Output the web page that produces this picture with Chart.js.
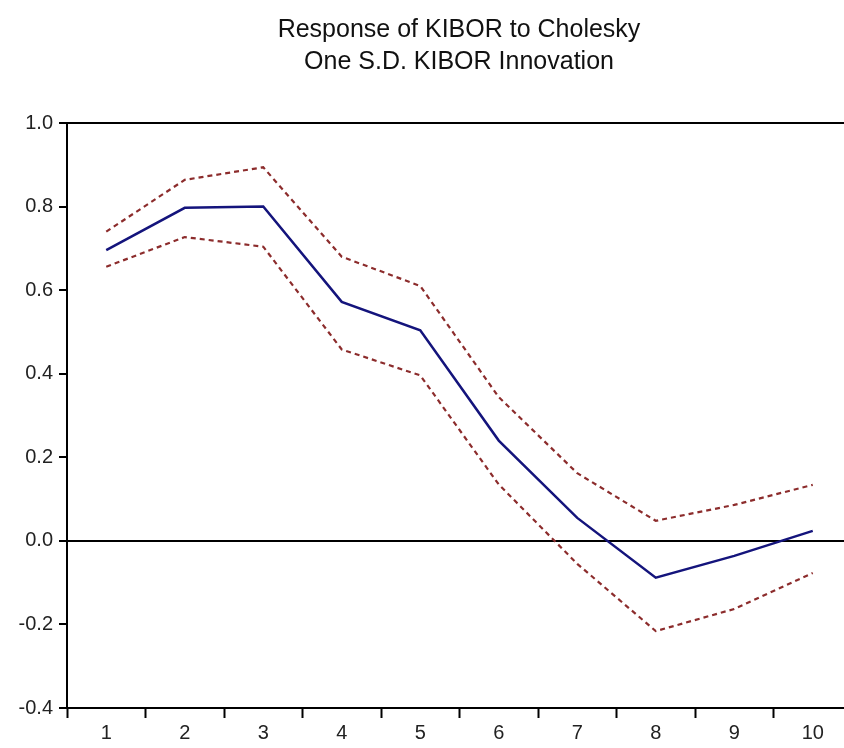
<!DOCTYPE html>
<html>
<head>
<meta charset="utf-8">
<title>Response of KIBOR to Cholesky</title>
<script src="https://cdn.jsdelivr.net/npm/chart.js@4/dist/chart.umd.min.js"></script>
<style>
    html, body { margin: 0; padding: 0; background: #fff; overflow: hidden; }
    #wrap { width: 918px; height: 748px; }
</style>
</head>
<body>
<div id="wrap"><canvas id="irf" width="918" height="748"></canvas></div>
<script>
    // impulse response, periods 1..10
    var periods = ['1', '2', '3', '4', '5', '6', '7', '8', '9', '10'];
    var response = [0.696, 0.797, 0.800, 0.572, 0.504, 0.240, 0.055, -0.088, -0.036, 0.024];
    var upperBand = [0.740, 0.864, 0.894, 0.680, 0.610, 0.344, 0.162, 0.048, 0.086, 0.134];
    var lowerBand = [0.656, 0.727, 0.704, 0.458, 0.396, 0.135, -0.055, -0.216, -0.163, -0.077];
    var titleLines = ['Response of KIBOR to Cholesky', 'One S.D. KIBOR Innovation'];

    var face = '"Liberation Sans", Arial, sans-serif';
    var blue = '#14147c';
    var red = '#8c2c2c';
    var rightPad = 66;

    // the original graph is wider than the window and gets cut on the right,
    // so the title is centred over the whole (wider) canvas
    var wideTitle = {
        id: 'wideTitle',
        afterLayout: function (chart) {
            var t = chart.titleBlock;
            if (t) {
                t.right += rightPad;
                t.width += rightPad;
            }
        }
    };

    var ctx = document.getElementById('irf').getContext('2d');
    var chart = new Chart(ctx, {
        type: 'line',
        data: {
            labels: periods,
            datasets: [
                { data: upperBand, borderColor: red, borderWidth: 2.2, borderDash: [5, 4] },
                { data: lowerBand, borderColor: red, borderWidth: 2.2, borderDash: [5, 4] },
                { data: response, borderColor: blue, borderWidth: 2.5 }
            ]
        },
        options: {
            responsive: false,
            animation: false,
            layout: { padding: { left: 0, right: rightPad, top: 0, bottom: 0 } },
            elements: {
                point: { radius: 0, hoverRadius: 0 },
                line: { tension: 0, fill: false }
            },
            plugins: {
                legend: { display: false },
                tooltip: { enabled: false },
                title: {
                    display: true,
                    text: titleLines,
                    color: '#111',
                    font: { family: face, size: 25, weight: 'normal', lineHeight: 1.28 },
                    padding: { top: 14, bottom: 45 }
                }
            },
            scales: {
                x: {
                    type: 'category',
                    offset: true,
                    border: { display: true, color: '#000', width: 2 },
                    grid: {
                        offset: true,
                        drawOnChartArea: false,
                        tickLength: 10,
                        tickColor: '#000',
                        tickWidth: 2
                    },
                    ticks: {
                        color: '#222',
                        padding: 5,
                        maxRotation: 0,
                        autoSkip: false,
                        font: { family: face, size: 20, lineHeight: 1.0 }
                    }
                },
                y: {
                    min: -0.4,
                    max: 1.0,
                    afterFit: function (scale) { scale.width = 67; },
                    border: { display: true, color: '#000', width: 2 },
                    grid: {
                        drawOnChartArea: true,
                        color: function (c) {
                            var v = c.tick ? Math.round(c.tick.value * 10) : null;
                            return (v === 0 || v === 10) ? '#000' : 'rgba(0,0,0,0)';
                        },
                        lineWidth: 2,
                        tickLength: 8,
                        tickColor: '#000',
                        tickWidth: 2
                    },
                    ticks: {
                        stepSize: 0.2,
                        color: '#222',
                        padding: 6,
                        font: { family: face, size: 20 },
                        callback: function (v) {
                            var r = Math.round(v * 10) / 10;
                            return (r === 0 ? 0 : r).toFixed(1);
                        }
                    }
                }
            }
        },
        plugins: [wideTitle]
    });
</script>
</body>
</html>
